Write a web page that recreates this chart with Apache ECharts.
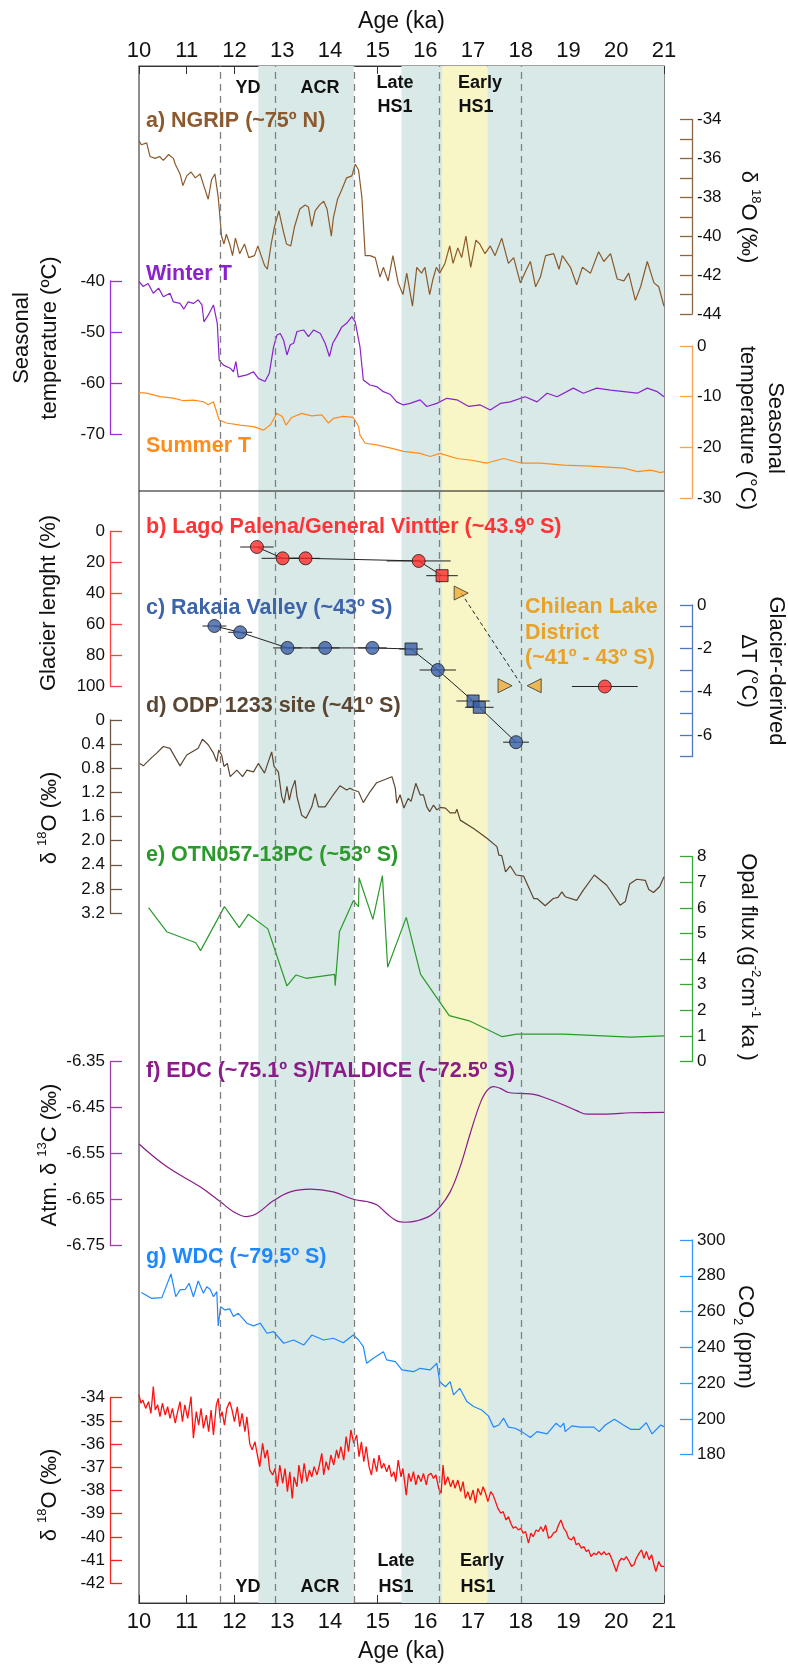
<!DOCTYPE html>
<html><head><meta charset="utf-8">
<script src="https://cdn.jsdelivr.net/npm/echarts@6/dist/echarts.min.js"></script>
<style>html,body{margin:0;padding:0;background:#fff}#c{width:788px;height:1668px}</style>
</head><body><div id="c"></div>
<script>
// ---------------- DATA ----------------
const ageMin = 10, ageMax = 21;
const ngrip = [[10.0,-35.1],[10.05,-35.3],[10.16,-35.2],[10.23,-35.9],[10.34,-36.0],[10.43,-35.9],[10.51,-36.1],[10.62,-35.8],[10.72,-36.0],[10.76,-36.3],[10.86,-36.8],[10.92,-37.4],[11.0,-36.9],[11.09,-36.7],[11.18,-37.0],[11.28,-36.8],[11.37,-37.5],[11.45,-38.1],[11.52,-37.1],[11.59,-36.8],[11.66,-38.0],[11.73,-40.0],[11.78,-40.4],[11.83,-39.9],[11.9,-40.4],[11.96,-41.0],[12.02,-40.1],[12.11,-40.9],[12.21,-40.4],[12.3,-41.1],[12.42,-41.0],[12.49,-40.5],[12.56,-41.0],[12.63,-41.5],[12.69,-41.7],[12.77,-40.4],[12.84,-39.5],[12.93,-38.7],[13.02,-39.7],[13.09,-40.4],[13.18,-40.5],[13.26,-39.5],[13.37,-38.6],[13.48,-38.4],[13.55,-38.5],[13.62,-39.5],[13.69,-38.7],[13.78,-38.4],[13.87,-38.2],[13.94,-38.6],[14.03,-40.0],[14.07,-39.1],[14.16,-38.1],[14.25,-37.6],[14.35,-37.0],[14.46,-36.9],[14.53,-36.3],[14.6,-36.6],[14.67,-38.0],[14.74,-41.0],[14.84,-41.0],[14.95,-41.1],[15.05,-42.1],[15.12,-41.6],[15.22,-42.3],[15.32,-41.0],[15.43,-42.4],[15.53,-43.0],[15.61,-41.9],[15.73,-43.6],[15.82,-41.6],[15.92,-41.9],[15.99,-41.6],[16.09,-43.0],[16.16,-42.2],[16.23,-41.6],[16.3,-41.9],[16.41,-41.4],[16.51,-40.5],[16.58,-41.4],[16.68,-40.6],[16.76,-41.1],[16.85,-40.0],[16.95,-41.6],[17.06,-40.2],[17.14,-40.4],[17.25,-40.9],[17.36,-40.5],[17.46,-41.0],[17.6,-40.1],[17.74,-41.4],[17.85,-41.1],[17.99,-42.4],[18.1,-41.8],[18.2,-41.3],[18.31,-42.6],[18.41,-42.1],[18.52,-41.0],[18.69,-40.9],[18.8,-41.7],[18.87,-41.0],[19.04,-41.6],[19.17,-42.5],[19.29,-41.6],[19.46,-41.9],[19.63,-40.8],[19.74,-41.3],[19.88,-40.9],[20.02,-42.2],[20.16,-42.3],[20.26,-41.9],[20.4,-43.3],[20.51,-42.6],[20.65,-41.3],[20.79,-42.4],[20.89,-42.6],[21.0,-43.6]];
const winterT = [[10.0,-40.1],[10.09,-41.1],[10.19,-40.5],[10.3,-42.4],[10.41,-41.4],[10.51,-43.1],[10.65,-42.4],[10.72,-44.1],[10.86,-44.4],[10.94,-45.5],[11.03,-44.1],[11.14,-44.4],[11.24,-43.7],[11.32,-44.7],[11.36,-48.0],[11.45,-46.7],[11.56,-44.7],[11.64,-48.3],[11.68,-55.5],[11.77,-56.5],[11.91,-57.1],[11.98,-57.8],[12.03,-55.8],[12.08,-58.8],[12.26,-58.4],[12.4,-57.8],[12.5,-59.1],[12.64,-59.7],[12.73,-58.1],[12.82,-52.9],[12.89,-50.6],[12.96,-50.3],[13.03,-51.6],[13.1,-54.5],[13.17,-52.5],[13.24,-52.2],[13.31,-49.9],[13.45,-49.6],[13.55,-50.9],[13.66,-49.6],[13.8,-50.3],[13.9,-52.2],[13.99,-54.8],[14.06,-52.2],[14.14,-50.9],[14.25,-49.0],[14.35,-48.3],[14.46,-47.0],[14.53,-48.0],[14.63,-52.9],[14.7,-59.4],[14.84,-60.4],[14.98,-60.7],[15.12,-61.7],[15.26,-62.2],[15.4,-63.7],[15.54,-64.3],[15.68,-64.0],[15.89,-63.3],[16.03,-64.6],[16.24,-64.0],[16.45,-63.0],[16.66,-63.3],[16.91,-64.6],[17.15,-64.3],[17.36,-65.3],[17.57,-64.0],[17.78,-63.7],[18.09,-62.7],[18.34,-63.7],[18.55,-62.0],[18.76,-62.7],[19.1,-61.0],[19.31,-62.0],[19.59,-61.0],[19.88,-61.4],[20.16,-61.7],[20.44,-62.0],[20.65,-61.0],[20.86,-61.7],[21.0,-62.7]];
const summerT = [[10.0,-9.2],[10.16,-9.3],[10.44,-10.0],[10.72,-10.3],[10.93,-10.8],[11.14,-10.7],[11.35,-11.0],[11.45,-11.6],[11.56,-11.0],[11.68,-14.6],[11.83,-15.2],[12.12,-15.6],[12.4,-15.9],[12.61,-16.6],[12.75,-15.6],[12.89,-13.3],[13.0,-13.9],[13.08,-15.6],[13.2,-14.1],[13.41,-13.3],[13.62,-13.8],[13.83,-13.6],[13.97,-15.2],[14.07,-14.3],[14.28,-13.9],[14.49,-14.1],[14.6,-15.9],[14.63,-17.6],[14.74,-19.2],[14.98,-19.5],[15.3,-20.2],[15.54,-20.8],[15.89,-21.2],[16.1,-21.8],[16.31,-21.2],[16.66,-22.2],[16.94,-22.5],[17.29,-23.1],[17.64,-22.2],[18.0,-23.1],[18.41,-23.1],[18.9,-23.5],[19.46,-23.7],[20.16,-24.1],[20.44,-24.8],[20.72,-24.5],[20.93,-25.0],[21.0,-24.8]];

const palenaAge  = [12.47, 13.01, 13.49, 15.86, 16.35];
const palenaLen  = [10.0, 17.3, 17.3, 19.0, 28.5];
const palenaErr  = [0.35, 0.44, 0.30, 0.67, 0.33];
const palenaKind = ['c','c','c','c','s'];
const lgmAge = [19.76], lgmLen = [100], lgmErr = [0.69];
const chileanAge = [16.75, 17.67, 18.28];
const chileanLen = [39.7, 99.5, 99.5];
const chileanDir = ['right','right','left'];
const chileanLinkAge = [16.75, 17.99];
const chileanLinkLen = [39.7, 97.9];

const rakaiaAge  = [11.58, 12.12, 13.11, 13.9, 14.89, 15.7, 16.26, 17.0, 17.13, 17.9];
const rakaiaDT   = [-0.97, -1.26, -1.98, -1.98, -1.98, -2.03, -3.0, -4.43, -4.72, -6.33];
const rakaiaErr  = [0.25, 0.25, 0.3, 0.3, 0.3, 0.25, 0.38, 0.35, 0.3, 0.27];
const rakaiaKind = ['c','c','c','c','c','s','c','s','s','c'];

const odp = [[10.02,0.72],[10.09,0.76],[10.18,0.69],[10.27,0.62],[10.37,0.55],[10.51,0.44],[10.65,0.47],[10.86,0.76],[11.0,0.58],[11.24,0.47],[11.33,0.32],[11.45,0.41],[11.56,0.55],[11.63,0.69],[11.67,0.5],[11.73,0.58],[11.78,0.77],[11.85,0.72],[11.91,0.94],[12.05,0.83],[12.17,0.94],[12.26,0.83],[12.4,0.86],[12.5,0.72],[12.63,0.88],[12.71,0.69],[12.78,0.53],[12.83,0.77],[12.92,0.86],[12.99,1.27],[13.04,1.38],[13.1,1.1],[13.15,1.33],[13.2,1.15],[13.27,1.0],[13.31,1.27],[13.41,1.58],[13.5,1.63],[13.62,1.44],[13.69,1.22],[13.76,1.44],[13.9,1.44],[14.07,1.24],[14.21,1.09],[14.35,1.16],[14.42,1.13],[14.49,1.16],[14.6,1.19],[14.7,1.37],[14.84,1.19],[14.98,1.04],[15.3,0.94],[15.37,1.13],[15.4,1.38],[15.47,1.24],[15.55,1.46],[15.64,1.3],[15.7,1.35],[15.8,1.05],[15.89,1.24],[15.96,1.24],[16.03,1.44],[16.09,1.52],[16.17,1.41],[16.24,1.49],[16.31,1.45],[16.42,1.46],[16.52,1.54],[16.63,1.54],[16.66,1.48],[16.73,1.66],[17.01,1.8],[17.29,1.96],[17.5,2.1],[17.54,2.24],[17.6,2.25],[17.68,2.52],[17.78,2.42],[17.9,2.57],[18.06,2.59],[18.27,2.96],[18.34,2.96],[18.51,3.08],[18.68,2.96],[18.78,2.94],[18.86,2.85],[18.93,2.93],[19.17,2.99],[19.31,2.82],[19.54,2.57],[19.8,2.74],[20.08,3.07],[20.19,3.01],[20.28,2.72],[20.43,2.64],[20.61,2.66],[20.68,2.81],[20.78,2.86],[20.91,2.76],[21.0,2.6]];
const opal = [[10.2,6.01],[10.58,5.07],[11.19,4.64],[11.29,4.33],[11.79,6.05],[12.1,5.23],[12.29,5.75],[12.7,5.18],[13.1,2.95],[13.29,3.38],[13.5,3.25],[14.1,3.4],[14.11,2.96],[14.2,5.07],[14.49,6.28],[14.6,6.05],[14.61,7.18],[14.9,5.55],[15.1,7.26],[15.21,3.68],[15.6,5.63],[15.9,3.4],[16.5,1.79],[16.92,1.59],[17.61,0.97],[17.92,1.07],[18.9,1.07],[20.3,0.95],[21.0,1.0]];
const d13c = [[10.0,-6.529],[10.58,-6.578],[11.28,-6.622],[11.7,-6.654],[11.98,-6.676],[12.26,-6.687],[12.47,-6.68],[12.82,-6.652],[13.17,-6.633],[13.59,-6.627],[14.07,-6.633],[14.49,-6.649],[14.77,-6.654],[14.98,-6.661],[15.19,-6.68],[15.4,-6.696],[15.57,-6.699],[15.82,-6.696],[16.1,-6.685],[16.31,-6.665],[16.52,-6.633],[16.73,-6.578],[16.94,-6.506],[17.15,-6.44],[17.29,-6.413],[17.43,-6.404],[17.57,-6.408],[17.74,-6.417],[17.99,-6.419],[18.27,-6.421],[18.55,-6.43],[18.9,-6.444],[19.18,-6.457],[19.39,-6.464],[19.8,-6.464],[20.3,-6.461],[21.0,-6.46]];
const co2 = [[10.05,270.6],[10.26,267.4],[10.48,267.8],[10.67,281],[10.77,268.3],[10.86,272.1],[10.97,272.4],[11.05,275.8],[11.14,268.3],[11.24,277.1],[11.35,270.2],[11.42,273.9],[11.49,272.5],[11.56,268.3],[11.63,271.1],[11.66,252],[11.71,262.7],[11.8,260.9],[11.9,261.5],[11.98,257.2],[12.08,259],[12.26,253.5],[12.4,252],[12.54,253.5],[12.68,247.9],[12.82,248.8],[13.03,242.3],[13.24,244.1],[13.45,241.3],[13.62,246.9],[13.87,244.1],[14.07,245.1],[14.28,242.6],[14.49,246.9],[14.6,244.1],[14.7,240.4],[14.77,231.1],[14.91,233.9],[15.12,237.6],[15.19,233],[15.37,232],[15.51,227.4],[15.75,226.4],[15.89,228.3],[16.1,227.4],[16.24,231.1],[16.3,220.8],[16.42,218],[16.52,220.8],[16.59,213.4],[16.72,217.1],[16.87,209.7],[17.01,206.9],[17.18,205],[17.32,201.7],[17.43,195.4],[17.54,196.6],[17.64,200.4],[17.74,195.4],[17.88,194.8],[18.02,192.9],[18.2,189.6],[18.34,192.9],[18.55,191.6],[18.74,197.6],[18.83,195.4],[18.9,197.6],[18.93,192.9],[19.07,196.1],[19.25,195.4],[19.53,195.4],[19.64,192.9],[19.77,196.6],[19.96,199.8],[20.15,196.6],[20.3,194.2],[20.49,194.2],[20.63,197.9],[20.75,191.6],[20.93,196.6],[21.0,195.7]];
const d18oS = [[10.0,-33.88],[10.04,-34.24],[10.08,-34.1],[10.14,-34.46],[10.2,-34.17],[10.25,-34.68],[10.3,-33.52],[10.34,-34.53],[10.39,-34.31],[10.44,-34.82],[10.49,-34.24],[10.55,-34.75],[10.6,-34.39],[10.65,-34.89],[10.7,-34.46],[10.76,-35.1],[10.81,-34.6],[10.86,-34.17],[10.91,-35.03],[10.96,-34.31],[11.02,-34.89],[11.09,-33.95],[11.14,-35.75],[11.2,-34.6],[11.25,-35.18],[11.3,-34.46],[11.35,-35.32],[11.41,-34.75],[11.46,-35.46],[11.51,-34.53],[11.56,-35.61],[11.62,-34.31],[11.66,-34.03],[11.7,-34.89],[11.74,-34.6],[11.79,-35.18],[11.84,-34.46],[11.9,-34.17],[11.95,-34.53],[12.0,-35.03],[12.06,-34.39],[12.11,-35.25],[12.16,-34.68],[12.22,-35.46],[12.26,-34.82],[12.32,-35.97],[12.37,-36.25],[12.43,-35.9],[12.48,-36.47],[12.53,-36.97],[12.59,-35.97],[12.64,-36.61],[12.69,-36.25],[12.74,-37.12],[12.8,-37.33],[12.85,-37.05],[12.9,-37.84],[12.95,-36.9],[13.01,-37.69],[13.06,-37.05],[13.11,-38.05],[13.16,-37.19],[13.21,-38.34],[13.25,-37.41],[13.31,-37.84],[13.35,-36.9],[13.41,-37.69],[13.46,-36.83],[13.52,-37.62],[13.57,-37.12],[13.62,-37.41],[13.67,-36.97],[13.73,-37.33],[13.78,-36.9],[13.83,-36.4],[13.87,-37.33],[13.92,-36.76],[13.97,-37.12],[14.02,-36.47],[14.08,-36.9],[14.14,-36.25],[14.18,-36.61],[14.23,-36.11],[14.29,-36.69],[14.34,-35.68],[14.39,-36.33],[14.44,-35.39],[14.5,-35.97],[14.56,-35.61],[14.61,-36.54],[14.66,-35.9],[14.71,-36.76],[14.76,-36.11],[14.82,-36.97],[14.87,-37.33],[14.92,-36.61],[14.98,-37.19],[15.03,-36.47],[15.08,-37.05],[15.13,-36.83],[15.19,-37.19],[15.24,-36.9],[15.29,-37.41],[15.34,-37.19],[15.38,-37.62],[15.43,-36.69],[15.49,-37.41],[15.53,-37.05],[15.6,-38.2],[15.65,-37.26],[15.7,-37.62],[15.75,-37.19],[15.8,-37.76],[15.85,-37.33],[15.91,-37.62],[15.96,-37.26],[16.02,-37.76],[16.06,-37.33],[16.12,-37.26],[16.17,-37.48],[16.22,-37.33],[16.28,-37.91],[16.33,-38.12],[16.37,-36.9],[16.41,-37.76],[16.47,-37.41],[16.53,-37.84],[16.58,-37.55],[16.62,-37.91],[16.68,-37.55],[16.74,-38.05],[16.79,-37.62],[16.84,-38.34],[16.89,-38.05],[16.94,-38.41],[17.0,-37.98],[17.05,-38.55],[17.1,-37.91],[17.16,-38.2],[17.21,-37.84],[17.26,-38.12],[17.31,-38.48],[17.37,-38.05],[17.42,-38.2],[17.47,-38.48],[17.52,-38.77],[17.58,-38.98],[17.63,-38.91],[17.69,-39.27],[17.74,-39.13],[17.79,-39.41],[17.84,-39.63],[17.89,-39.56],[17.95,-39.7],[18.0,-39.63],[18.05,-39.84],[18.1,-39.77],[18.16,-40.27],[18.21,-39.84],[18.26,-39.99],[18.32,-39.7],[18.37,-39.77],[18.42,-39.56],[18.47,-39.77],[18.52,-39.49],[18.58,-40.06],[18.64,-39.99],[18.68,-39.84],[18.74,-39.77],[18.79,-39.49],[18.84,-39.27],[18.9,-39.63],[18.95,-39.77],[19.0,-40.06],[19.06,-40.13],[19.11,-39.99],[19.16,-40.34],[19.21,-40.27],[19.27,-40.49],[19.32,-40.41],[19.37,-40.63],[19.42,-40.56],[19.47,-40.85],[19.53,-40.7],[19.58,-40.77],[19.63,-40.63],[19.69,-40.77],[19.74,-40.63],[19.79,-40.77],[19.85,-40.7],[19.9,-40.92],[19.95,-41.2],[20.0,-41.49],[20.06,-41.06],[20.11,-40.92],[20.16,-40.99],[20.21,-40.85],[20.27,-41.06],[20.32,-41.27],[20.37,-41.2],[20.42,-40.92],[20.48,-40.7],[20.53,-40.56],[20.58,-40.92],[20.63,-40.63],[20.69,-40.99],[20.74,-40.77],[20.79,-41.2],[20.83,-41.49],[20.89,-41.06],[20.94,-41.27],[21.0,-41.27]];

const periodBands = [[12.5,14.5,'teal'],[15.5,16.35,'teal'],[16.35,17.3,'yellow'],[17.3,21,'teal']];
const boundaryAges = [11.7, 12.85, 14.5, 16.3, 18.0];

// ---------------- LAYOUT ----------------
const GL = 139, GR = 124;
const NARROW = "'Liberation Sans Narrow','Arial Narrow','Liberation Sans',Arial,sans-serif";
const SANS = "'Liberation Sans',Arial,Helvetica,sans-serif";
const evenLbl = v => (Math.abs(Math.round(v)) % 2 === 0 ? String(Math.round(v)) : '');
const panels = [
  {top:119.5, bottom:314,   min:-44,   max:-34,  interval:1,   side:'right', color:'#8b6440', fmt:evenLbl},
  {top:281,   bottom:434,   min:-70,   max:-40,  interval:10,  side:'left',  color:'#9b30d9'},
  {top:346,   bottom:498,   min:-30,   max:0,    interval:10,  side:'right', color:'#ffa04d'},
  {top:531.5, bottom:686.5, min:0,     max:100,  interval:20,  side:'left',  color:'#ff4040', inverse:true},
  {top:605,   bottom:756.7, min:-7,    max:0,    interval:1,   side:'right', color:'#5078c0', fmt:evenLbl},
  {top:720,   bottom:913,   min:0,     max:3.2,  interval:0.4, side:'left',  color:'#6b5744', inverse:true, fmt:v=> v===0?'0':v.toFixed(1)},
  {top:856.7, bottom:1061.5,min:0,     max:8,    interval:1,   side:'right', color:'#33aa33'},
  {top:1061.7,bottom:1245.7,min:-6.75, max:-6.35,interval:0.1, side:'left',  color:'#a040a0', fmt:v=>v.toFixed(2)},
  {top:1240,  bottom:1454.7,min:180,   max:300,  interval:20,  side:'right', color:'#3399ff'},
  {top:1397.7,bottom:1583.3,min:-42,   max:-34,  interval:1,   side:'left',  color:'#ff2020'}
];

const grids = [{left:GL, right:GR, top:66, bottom:63, show:true, borderColor:'#444', borderWidth:1.2, backgroundColor:'transparent'}];
const xAxes = [
  {gridIndex:0, type:'value', min:ageMin, max:ageMax, interval:1, position:'bottom',
   axisLine:{lineStyle:{color:'#333', width:1.2}}, axisTick:{inside:true, length:8, lineStyle:{color:'#333'}},
   axisLabel:{fontSize:22, color:'#111', fontFamily:SANS, margin:8}, splitLine:{show:false},
   name:'Age (ka)', nameLocation:'middle', nameGap:37, nameTextStyle:{fontSize:23, color:'#111', fontFamily:SANS}},
  {gridIndex:0, type:'value', min:ageMin, max:ageMax, interval:1, position:'top',
   axisLine:{lineStyle:{color:'#333', width:1.2}}, axisTick:{inside:true, length:8, lineStyle:{color:'#333'}},
   axisLabel:{fontSize:22, color:'#111', fontFamily:SANS, margin:4}, splitLine:{show:false},
   name:'Age (ka)', nameLocation:'middle', nameGap:33, nameTextStyle:{fontSize:23, color:'#111', fontFamily:SANS}}
];
const yAxes = [{gridIndex:0, type:'value', min:0, max:1, show:false}];
panels.forEach((p,i) => {
  grids.push({left:GL, right:GR, top:p.top, height:p.bottom-p.top, show:false});
  xAxes.push({gridIndex:i+1, type:'value', min:ageMin, max:ageMax, show:false});
  yAxes.push({gridIndex:i+1, type:'value', min:p.min, max:p.max, interval:p.interval, inverse:!!p.inverse,
    position:p.side, offset: p.side==='left'?29:28,
    axisLine:{show:true, lineStyle:{color:p.color, width:1.3}},
    axisTick:{show:true, inside:true, length:12, lineStyle:{color:p.color, width:1.3}},
    axisLabel:{color:'#111', fontSize:17, fontFamily:SANS, margin:5, formatter:p.fmt || (v=>String(v)), showMinLabel:true, showMaxLabel:true},
    splitLine:{show:false}});
});
// panel gi (0-based) -> xAxisIndex gi+2, yAxisIndex gi+1
const XI = gi => gi+2, YI = gi => gi+1;

function line(gi, data, color, extra) {
  return Object.assign({type:'line', xAxisIndex:XI(gi), yAxisIndex:YI(gi), data, symbol:'none', showSymbol:false,
    lineStyle:{color, width:1.2}, clip:false, silent:true, z:3}, extra||{});
}
const zip = (a,b,c) => a.map((v,k)=> c ? [v,b[k],c[k]] : [v,b[k]]);
function errBars(gi, data) {
  return {type:'custom', xAxisIndex:XI(gi), yAxisIndex:YI(gi), data, silent:true, z:4, clip:false,
    encode:{x:0, y:1},
    renderItem:(params, api) => {
      const y = api.value(1), x = api.value(0), e = api.value(2);
      const a = api.coord([x-e, y]), b = api.coord([x+e, y]);
      return {type:'line', shape:{x1:a[0], y1:a[1], x2:b[0], y2:b[1]}, style:{stroke:'#222', lineWidth:1}};
    }};
}
function markers(gi, ages, vals, kinds, fill) {
  return {type:'scatter', xAxisIndex:XI(gi), yAxisIndex:YI(gi), silent:true, z:6, clip:false,
    data: ages.map((a,k)=>({value:[a, vals[k]], symbol: kinds[k]==='s' ? 'rect' : 'circle', symbolSize: kinds[k]==='s' ? 12 : 13})),
    itemStyle:{color:fill, borderColor:'#1a1a1a', borderWidth:1}};
}

const series = [
  {type:'line', xAxisIndex:0, yAxisIndex:0, data:[[ageMin,0.5]], symbol:'none', silent:true, z:1,
   lineStyle:{width:0},
   markArea:{silent:true, data: periodBands.map(b=>[{xAxis:b[0], itemStyle:{color: b[2]==='teal' ? '#d9e9e7' : '#f8f6c6'}},{xAxis:b[1]}])},
   markLine:{silent:true, symbol:'none', label:{show:false},
     lineStyle:{color:'#808080', width:1.3, type:[7,5]}, data: boundaryAges.map(a=>({xAxis:a}))}},
  line(0, ngrip, '#8b5a2b'),
  line(1, winterT, '#8b22cc'),
  line(2, summerT, '#ff8c1a'),
  errBars(3, zip(palenaAge, palenaLen, palenaErr)),
  errBars(3, zip(lgmAge, lgmLen, lgmErr)),
  line(3, zip(palenaAge, palenaLen), '#222', {lineStyle:{color:'#222', width:1}, z:5}),
  line(3, zip(chileanLinkAge, chileanLinkLen), '#222', {lineStyle:{color:'#222', width:1, type:[4,3]}, z:5}),
  markers(3, palenaAge, palenaLen, palenaKind, '#ff2a2a'),
  markers(3, lgmAge, lgmLen, ['c'], '#ff2a2a'),
  {type:'scatter', xAxisIndex:XI(3), yAxisIndex:YI(3), silent:true, z:6, clip:false,
   data: chileanAge.map((a,k)=>({value:[a, chileanLen[k]], symbolRotate: chileanDir[k]==='right' ? -90 : 90})),
   symbol:'triangle', symbolSize:14, itemStyle:{color:'#f0aa30', borderColor:'#333', borderWidth:1}},
  errBars(4, zip(rakaiaAge, rakaiaDT, rakaiaErr)),
  line(4, zip(rakaiaAge, rakaiaDT), '#222', {lineStyle:{color:'#222', width:1}, z:5}),
  markers(4, rakaiaAge, rakaiaDT, rakaiaKind, '#3a5fa8'),
  line(5, odp, '#5c4632'),
  line(6, opal, '#2a9a2a'),
  line(7, d13c, '#8b1a8b', {smooth:0.4}),
  line(8, co2, '#1e88ff'),
  line(9, d18oS, '#ff1010', {lineStyle:{color:'#ff1010', width:1.3}})
];

// ---------------- TEXT ----------------
function txt(t, x, y, o) {
  o = o || {};
  const style = {text:t, fill:o.fill||'#111', fontSize:o.size||21.5, fontWeight:o.weight||'bold', fontFamily:o.family||NARROW,
      textAlign:o.align||'left', textVerticalAlign:o.valign||'middle'};
  if (o.lh) style.lineHeight = o.lh;
  if (o.rich) style.rich = o.rich;
  return {type:'text', x, y, rotation:o.rot||0, z:50, silent:true, style};
}
const R90 = Math.PI/2;
const titleRich = {
  n:{fontSize:22, fontFamily:SANS, fill:'#111', lineHeight:28},
  s:{fontSize:13, fontFamily:SANS, fill:'#111', verticalAlign:'top', lineHeight:28},
  b:{fontSize:13, fontFamily:SANS, fill:'#111', verticalAlign:'bottom', lineHeight:28}
};
const T = (t,x,y,rot) => txt(t, x, y, {rot, size:22, weight:'normal', family:SANS, align:'center', lh:28, rich:titleRich});
const graphic = [
  {type:'line', shape:{x1:GL, y1:491, x2:788-GR, y2:491}, style:{stroke:'#111', lineWidth:1.2}, z:10, silent:true},
  txt('a) NGRIP (~75º N)', 146, 121, {fill:'#8c5a2e'}),
  txt('Winter T', 146, 274, {fill:'#8b22cc'}),
  txt('Summer T', 146, 446, {fill:'#ff8c1a'}),
  txt('b) Lago Palena/General Vintter (~43.9º S)', 146, 527, {fill:'#ff3333'}),
  txt('c) Rakaia Valley (~43º S)', 146, 608, {fill:'#3d64a8'}),
  txt('d) ODP 1233 site (~41º S)', 146, 706, {fill:'#5a4632'}),
  txt('e) OTN057-13PC (~53º S)', 146, 855, {fill:'#2a9a2a'}),
  txt('f) EDC (~75.1º S)/TALDICE (~72.5º S)', 146, 1071, {fill:'#8b1a8b'}),
  txt('g) WDC (~79.5º S)', 146, 1257, {fill:'#1e88ff'}),
  txt('Chilean Lake\nDistrict\n(~41º - 43º S)', 525, 633, {fill:'#e9a227', lh:25.5}),
  txt('YD', 248, 88, {size:18, align:'center'}),
  txt('ACR', 320, 88, {size:18, align:'center'}),
  txt('Late', 395, 83, {size:18, align:'center'}),
  txt('HS1', 395, 107, {size:18, align:'center'}),
  txt('Early', 480, 83, {size:18, align:'center'}),
  txt('HS1', 476, 107, {size:18, align:'center'}),
  txt('YD', 248, 1587, {size:18, align:'center'}),
  txt('ACR', 320, 1587, {size:18, align:'center'}),
  txt('Late', 396, 1561, {size:18, align:'center'}),
  txt('HS1', 396, 1587, {size:18, align:'center'}),
  txt('Early', 482, 1561, {size:18, align:'center'}),
  txt('HS1', 478, 1587, {size:18, align:'center'}),
  T('{n|Seasonal}\n{n|temperature (ºC)}', 36, 338, R90),
  T('{n|Glacier lenght (%)}', 49, 603, R90),
  T('{n|δ }{s|18}{n|O (‰)}', 50, 818, R90),
  T('{n|Atm. δ }{s|13}{n|C (‰)}', 50, 1155, R90),
  T('{n|δ }{s|18}{n|O (‰)}', 50, 1495, R90),
  T('{n|δ }{s|18}{n|O (‰)}', 748, 217, -R90),
  T('{n|Seasonal}\n{n|temperature (°C)}', 761, 428, -R90),
  T('{n|Glacier-derived}\n{n|ΔT (°C)}', 762, 671, -R90),
  T('{n|Opal flux (g}{s|-2}{n|cm}{s|-1}{n| ka )}', 748, 957, -R90),
  T('{n|CO}{b|2}{n| (ppm)}', 745, 1337, -R90)
];

const chart = echarts.init(document.getElementById('c'), null, {renderer:'canvas'});
chart.setOption({animation:false, backgroundColor:'#fff', grid:grids, xAxis:xAxes, yAxis:yAxes, series, graphic});
</script></body></html>
